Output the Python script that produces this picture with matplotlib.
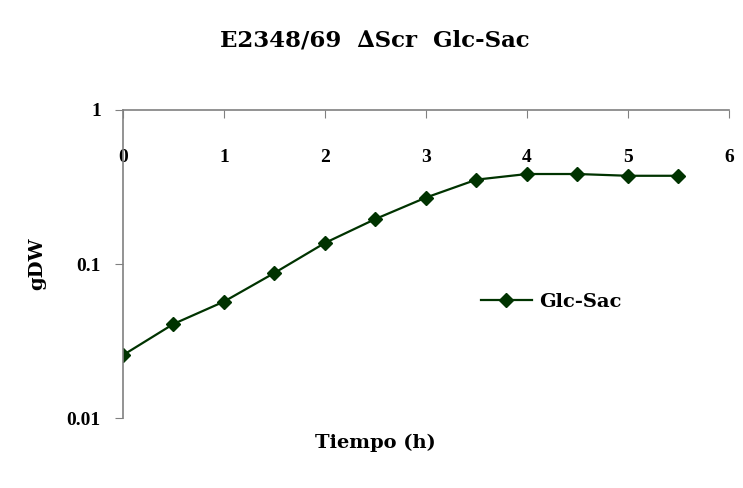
import numpy as np
import matplotlib
matplotlib.use("Agg")
import matplotlib.pyplot as plt
from matplotlib.ticker import FixedLocator, NullLocator

# growth curve data
tiempo = [0, 0.5, 1, 1.5, 2, 2.5, 3, 3.5, 4, 4.5, 5, 5.5]
gdw = [0.0256, 0.0408, 0.057, 0.0875, 0.137, 0.196, 0.27, 0.353, 0.384, 0.384, 0.374, 0.374]
xticks = [0, 1, 2, 3, 4, 5, 6]
yticks = [0.01, 0.1, 1]
ytick_labels = ["0.01", "0.1", "1"]

plt.rcParams['font.family'] = ['Liberation Serif', 'DejaVu Serif']
plt.rcParams['font.weight'] = 'bold'
label_font = ['DejaVu Serif']

fig = plt.figure(figsize=(7.43, 4.88), dpi=100)
ax = fig.add_axes([0.1655, 0.1434, 0.8155, 0.6312])

ax.plot(tiempo, gdw, '-', color="#003300", marker='D', markersize=7.5,
        linewidth=1.6, label="Glc-Sac")

ax.set_yscale('log')
ax.set_ylim(0.01, 1)
ax.set_xlim(0, 6)
ax.yaxis.set_major_locator(FixedLocator(yticks))
ax.yaxis.set_minor_locator(NullLocator())
ax.set_yticklabels(ytick_labels, fontsize=14, fontweight='bold')

# x axis drawn along the top, labels hang below it
ax.xaxis.tick_top()
ax.set_xticks(xticks)
ax.set_xticklabels([str(t) for t in xticks], fontsize=14, fontweight='bold')
ax.tick_params(axis='x', direction='in', length=6, color='#808080', pad=-40)
ax.tick_params(axis='y', direction='out', length=6, color='#808080', pad=10)

for s in ['right', 'bottom']:
    ax.spines[s].set_visible(False)
for s in ['left', 'top']:
    ax.spines[s].set_color('#808080')
    ax.spines[s].set_linewidth(1.2)

fig.text(0.5045, 0.918, "E2348/69  \u2206Scr  Glc-Sac", ha='center', va='center',
         fontsize=16.5, fontweight='bold', family=label_font)
fig.text(0.05, 0.459, "gDW", ha='center', va='center', rotation='vertical',
         fontsize=14, fontweight='bold', family=label_font)
fig.text(0.505, 0.092, "Tiempo (h)", ha='center', va='center',
         fontsize=14, fontweight='bold', family=label_font)

ax.legend(loc='center left', bbox_to_anchor=(0.591, 0.377), frameon=False,
          prop={'size': 14, 'weight': 'bold', 'family': label_font},
          handlelength=2.6, handletextpad=0.4, borderpad=0, borderaxespad=0)

fig.savefig('out.png', dpi=100)
